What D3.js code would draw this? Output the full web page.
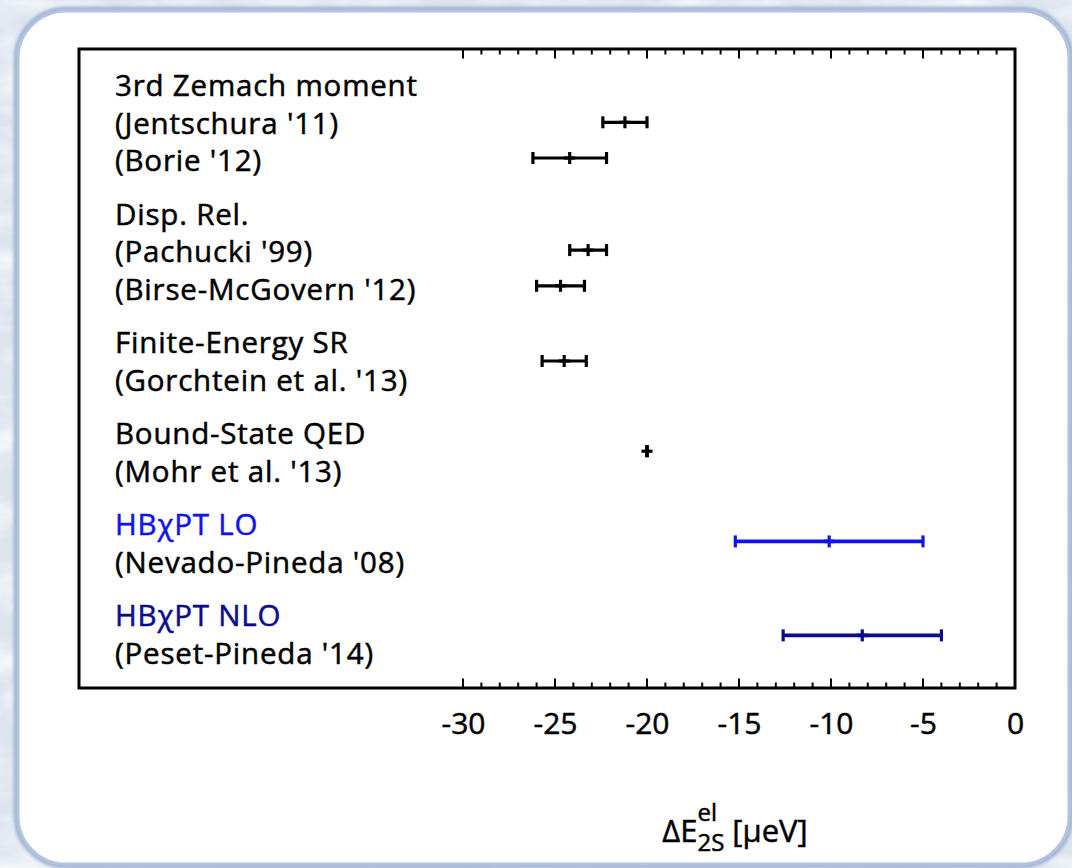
<!DOCTYPE html>
<html>
<head>
<meta charset="utf-8">
<script src="https://cdn.jsdelivr.net/npm/d3@7"></script>
<style>
  html, body { margin: 0; padding: 0; background: #dfe6ee; }
  svg { display: block; }
  text { font-family: "Open Sans", Lato, sans-serif; }
</style>
</head>
<body>
<svg id="chart" width="1072" height="868"></svg>
<script>
// Elastic contribution to the 2S level shift, grouped by method
const methods = ["3rd Zemach moment", "Disp. Rel.", "Finite-Energy SR", "Bound-State QED", "HB\u03C7PT LO", "HB\u03C7PT NLO"];
const references = [
  ["(Jentschura '11)", "(Borie '12)"],
  ["(Pachucki '99)", "(Birse-McGovern '12)"],
  ["(Gorchtein et al. '13)"],
  ["(Mohr et al. '13)"],
  ["(Nevado-Pineda '08)"],
  ["(Peset-Pineda '14)"]
];

// One entry per result: method index, central value, interval, row on the hidden vertical axis
const entryNames   = ["Jentschura '11", "Borie '12", "Pachucki '99", "Birse-McGovern '12", "Gorchtein et al. '13", "Mohr et al. '13", "Nevado-Pineda '08", "Peset-Pineda '14"];
const entryMethod  = [0, 0, 1, 1, 2, 3, 4, 5];
const centralValues = [-21.2, -24.2, -23.2, -24.7, -24.5, -20.0, -10.1, -8.3];
const lowerValues   = [-22.4, -26.2, -24.2, -26.0, -25.7, -20.0, -15.2, -12.6];
const upperValues   = [-20.0, -22.2, -22.2, -23.4, -23.3, -20.0, -5.0, -4.0];
const rowValues     = [15.05, 14.1, 11.65, 10.7, 8.7, 6.3, 3.9, 1.4];

const xTickValues = [-30, -25, -20, -15, -10, -5, 0];
const xMinorValues = d3.range(-30, 1, 1);

// Styling
const methodColor = d3.scaleOrdinal().domain(d3.range(methods.length))
  .range(["#000000", "#000000", "#000000", "#000000", "#1212ee", "#0b0b8e"]);

const W = 1072, H = 868;
const frame = { left: 79, top: 49, right: 1015, bottom: 688 };

const svg = d3.select("#chart");
const defs = svg.append("defs");

// Marbled backdrop
const marble = defs.append("filter").attr("id", "marble")
  .attr("x", 0).attr("y", 0).attr("width", "100%").attr("height", "100%");
marble.append("feTurbulence").attr("type", "fractalNoise")
  .attr("baseFrequency", "0.012 0.028").attr("numOctaves", 4).attr("seed", 7).attr("result", "n");
marble.append("feColorMatrix").attr("in", "n").attr("type", "matrix")
  .attr("values", "0 0 0 0 1  0 0 0 0 1  0 0 0 0 1  2.6 0 0 0 -1.05");

const marble2 = defs.append("filter").attr("id", "marble2")
  .attr("x", 0).attr("y", 0).attr("width", "100%").attr("height", "100%");
marble2.append("feTurbulence").attr("type", "fractalNoise")
  .attr("baseFrequency", "0.03 0.05").attr("numOctaves", 3).attr("seed", 19).attr("result", "n");
marble2.append("feColorMatrix").attr("in", "n").attr("type", "matrix")
  .attr("values", "0 0 0 0 0.72  0 0 0 0 0.78  0 0 0 0 0.87  0 2.4 0 0 -1.1");

const soft = defs.append("filter").attr("id", "soft")
  .attr("x", "-5%").attr("y", "-5%").attr("width", "110%").attr("height", "110%");
soft.append("feGaussianBlur").attr("stdDeviation", 1.8);

svg.append("rect").attr("width", W).attr("height", H).attr("fill", "#dce4ee");
svg.append("rect").attr("width", W).attr("height", H).attr("filter", "url(#marble2)").attr("opacity", 0.55);
svg.append("rect").attr("width", W).attr("height", H).attr("filter", "url(#marble)").attr("opacity", 0.7);

// Rounded white panel
svg.append("rect")
  .attr("x", 18).attr("y", 11).attr("width", 1051).attr("height", 853)
  .attr("rx", 48).attr("ry", 48)
  .attr("fill", "none").attr("stroke", "#a3b6d7").attr("stroke-width", 9)
  .attr("filter", "url(#soft)");
svg.append("rect")
  .attr("x", 18).attr("y", 11).attr("width", 1051).attr("height", 853)
  .attr("rx", 48).attr("ry", 48)
  .attr("fill", "#ffffff").attr("stroke", "#b4c4df").attr("stroke-width", 3);

// Scales
const x = d3.scaleLinear().domain([-30, 0]).range([463, frame.right]);
const y = d3.scaleLinear().domain([0, 17]).range([frame.bottom, frame.top]);

// Frame
svg.append("rect")
  .attr("x", frame.left).attr("y", frame.top)
  .attr("width", frame.right - frame.left).attr("height", frame.bottom - frame.top)
  .attr("fill", "none").attr("stroke", "#000").attr("stroke-width", 3);

// Inward ticks on bottom and top edges
const tickG = svg.append("g").attr("stroke", "#000").attr("stroke-width", 2);
[{ y0: frame.bottom, dir: -1 }, { y0: frame.top, dir: 1 }].forEach(edge => {
  tickG.selectAll(null).data(xMinorValues).enter().append("line")
    .attr("x1", d => x(d)).attr("x2", d => x(d))
    .attr("y1", edge.y0)
    .attr("y2", d => edge.y0 + edge.dir * (xTickValues.includes(d) ? 9.5 : 5.5));
});

// Bottom tick labels through a D3 axis (plain hyphen for negatives)
const axis = d3.axisBottom(x).tickValues(xTickValues).tickSize(0).tickPadding(0)
  .tickFormat(d => String(d));
const axG = svg.append("g").attr("transform", `translate(0,${frame.bottom})`).call(axis);
axG.select(".domain").remove();
axG.selectAll("text")
  .attr("dy", null).attr("y", 46)
  .attr("font-family", "'Open Sans', sans-serif").attr("font-size", 30).attr("fill", "#000")
  .attr("stroke", "#000").attr("stroke-width", 0.5);

// Method and reference labels
const lineH = 37.5, groupGap = 16;
let ty = 96;
const labelG = svg.append("g").attr("font-size", 29.5).attr("letter-spacing", 0.8)
  .attr("stroke-width", 0.5);
methods.forEach((m, i) => {
  labelG.append("text").attr("x", 115).attr("y", ty)
    .attr("fill", methodColor(i)).attr("stroke", methodColor(i)).text(m);
  ty += lineH;
  references[i].forEach(r => {
    labelG.append("text").attr("x", 115).attr("y", ty)
      .attr("fill", "#000").attr("stroke", "#000").text(r);
    ty += lineH;
  });
  ty += groupGap;
});

// Error bars
const capH = 6, capW = 3.2;
const entries = entryNames.map((n, i) => ({
  name: n, m: entryMethod[i], c: centralValues[i], lo: lowerValues[i], hi: upperValues[i], row: rowValues[i]
}));
const barG = svg.append("g").selectAll("g").data(entries).enter().append("g")
  .attr("stroke", d => methodColor(d.m)).attr("stroke-width", d => d.m >= 4 ? 3.6 : 3.2);
barG.append("line")
  .attr("x1", d => x(d.lo)).attr("x2", d => x(d.hi))
  .attr("y1", d => y(d.row)).attr("y2", d => y(d.row));
barG.selectAll(".cap").data(d => [d.lo, d.c, d.hi].map(v => ({ v, row: d.row, m: d.m }))).enter()
  .append("line").attr("class", "cap")
  .attr("stroke-width", capW)
  .attr("x1", d => x(d.v)).attr("x2", d => x(d.v))
  .attr("y1", d => y(d.row) - capH).attr("y2", d => y(d.row) + capH);
// point marker (visible where the interval is narrower than the marker)
barG.append("line")
  .attr("x1", d => x(d.c) - 5.5).attr("x2", d => x(d.c) + 5.5)
  .attr("y1", d => y(d.row)).attr("y2", d => y(d.row));

// Axis title: ΔE with stacked super/subscript, then unit
const titleG = svg.append("g").attr("fill", "#000").attr("stroke", "#000").attr("stroke-width", 0.5);
const tBase = 842;
const t1 = titleG.append("text").attr("y", tBase).attr("font-size", 31).text("\u0394E");
const w1 = t1.node().getComputedTextLength();
const sup = titleG.append("text").attr("y", tBase - 21).attr("font-size", 24).text("el");
const sub = titleG.append("text").attr("y", tBase + 9).attr("font-size", 24).text("2S");
const w2 = Math.max(sup.node().getComputedTextLength(), sub.node().getComputedTextLength());
const t3 = titleG.append("text").attr("y", tBase).attr("font-size", 31).text("[\u03BCeV]");
const w3 = t3.node().getComputedTextLength();
const gap = 8;
const total = w1 + w2 + gap + w3;
const x0 = 735 - total / 2;
t1.attr("x", x0);
sup.attr("x", x0 + w1);
sub.attr("x", x0 + w1);
t3.attr("x", x0 + w1 + w2 + gap);
</script>
</body>
</html>
